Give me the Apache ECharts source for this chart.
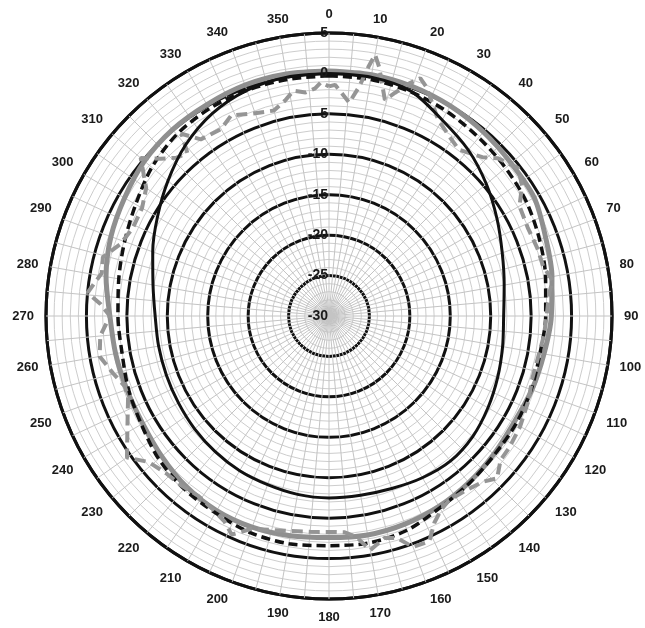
<!DOCTYPE html>
<html><head><meta charset="utf-8">
<script src="https://cdn.jsdelivr.net/npm/echarts@6/dist/echarts.min.js"></script>
<style>html,body{margin:0;padding:0;background:#fff}#c{width:645px;height:628px}</style>
</head><body><div id="c"></div>
<script>
// Radial scale (dB) and angular ticks
const radiusMin = -30, radiusMax = 5;
const angleLabelStep = 10;

// Black solid (narrow pattern), every 10 degrees
const blackSolidAngles = [0,10,20,30,40,50,60,70,80,90,100,110,120,130,140,150,160,170,180,190,200,210,220,230,240,250,260,270,280,290,300,310,320,330,340,350,360];
const blackSolidValues = [0,0,-0.4,-2.0,-3.2,-4.6,-6.0,-7.2,-8.0,-8.4,-8.2,-7.8,-7.3,-6.8,-6.6,-6.9,-7.3,-7.5,-7.5,-7.6,-7.8,-7.9,-8.1,-8.3,-8.5,-8.6,-8.6,-8.5,-7.9,-6.8,-5.5,-4.0,-2.4,-1.1,-0.3,0,0];

// Gray solid, every 10 degrees
const graySolidAngles = blackSolidAngles;
const graySolidValues = [0.3,0.3,0.2,0,-0.3,-0.6,-0.7,-1.5,-2.0,-2.5,-3.0,-3.3,-3.6,-3.4,-3.1,-2.8,-2.6,-2.5,-2.6,-2.4,-2.2,-2.2,-2.5,-3.0,-3.4,-3.4,-3.2,-2.9,-2.0,-1.3,-0.8,-0.2,0.1,0.2,0.4,0.4,0.3];

// Black dashed, every 10 degrees
const blackDashedAngles = blackSolidAngles;
const blackDashedValues = [-0.3,-0.3,-0.5,-0.8,-1.2,-1.5,-1.8,-2.3,-2.8,-3.2,-3.5,-3.4,-3.3,-3.3,-3.0,-2.6,-1.8,-1.5,-1.6,-1.4,-1.5,-1.9,-2.1,-2.5,-3.2,-3.6,-4.0,-3.9,-3.6,-3.1,-2.4,-1.4,-0.7,-0.4,-0.3,-0.3,-0.3];

// Gray dashed (irregular measured curve)
const grayDashedAngles = [0,1.5,3.3,5.4,7.5,9,10,11.4,14.5,16.5,19,21,23,26,29,34,38,44,47,52,56,60,66,72,77,81,84,90,95,100,107,113,120,126,130,134,137,142,147,150,153,156,160,163,166,170,173,176,180,185,190,195,200,204,207,211,216,221,226,231,235,240,244,248,251,255,260,265,270,273,275.5,280.7,284.6,289,294,300,305,310,313,316,319,321,324,330,334,339,345,348.5,351,354,356.5,358,360];
const grayDashedValues = [-1.6,-1.4,-2.4,-3.5,-1.4,1.2,2.8,1.4,-2.4,-1.2,0.4,1.5,0.8,-0.8,-2.2,-3.3,-3.9,-2.7,-1.4,-0.3,-1.2,-2.8,-3.1,-2.9,-2.8,-2.0,-2.6,-3.1,-3.3,-3.6,-3.7,-3.2,-2.7,-2.4,-2.3,-1.1,-2.0,-2.6,-2.8,-2.3,-1.3,0.5,0.4,-1.3,-1.7,-0.6,-2.5,-3.2,-3.3,-3.2,-3.0,-2.6,-2.0,-0.4,-1.5,-2.1,-2.5,-2.2,-2.0,-1.3,0.5,-1.2,-2.3,-3.2,-3.3,-2.4,-1.2,-1.6,-2.9,-1.7,0,-1.4,-1.1,-2.7,-3.4,-3.3,-2.4,0.4,-1.5,-2.8,-3.3,-1.0,-3.0,-3.3,-2.4,-3.2,-3.7,-2.8,-1.8,-2.2,-1.8,-1.1,-1.6];

function pairs(angles, values){ return angles.map((a,i)=>[values[i], a]); }

const chart = echarts.init(document.getElementById('c'), null, {renderer:'canvas'});
const C = [329, 316], R = 283;
const fontFamily = 'Liberation Sans, Arial, sans-serif';
const option = {
  animation:false,
  backgroundColor:'#fff',
  textStyle:{fontFamily},
  polar:[{center:C, radius:R},{center:C, radius:R},{center:C, radius:R}],
  angleAxis:[
    {polarIndex:0, type:'value', min:0, max:360, interval:5, startAngle:90, clockwise:true,
     axisLine:{show:false}, axisTick:{show:false}, axisLabel:{show:false},
     splitLine:{show:true, lineStyle:{color:'#c4c4c4', width:1}}, z:3},
    {polarIndex:1, type:'value', min:0, max:360, interval:10, startAngle:90, clockwise:true,
     axisLine:{show:true, lineStyle:{color:'#111', width:3}}, axisTick:{show:false}, axisLabel:{show:false},
     splitLine:{show:false}, z:2},
    {polarIndex:2, type:'value', min:0, max:360, interval:angleLabelStep, startAngle:90, clockwise:true,
     axisLine:{show:false}, axisTick:{show:false},
     axisLabel:{show:true, margin:12, fontSize:13, fontWeight:'bold', color:'#1a1a1a', fontFamily,
       formatter:v=> (v%angleLabelStep===0 && v<360) ? String(v) : ''},
     splitLine:{show:false}, z:6}
  ],
  radiusAxis:[
    {polarIndex:0, type:'value', min:radiusMin, max:radiusMax, interval:1,
     axisLine:{show:false}, axisTick:{show:false}, axisLabel:{show:false},
     splitLine:{show:true, lineStyle:{color:'#cdcdcd', width:1}}, z:1},
    {polarIndex:1, type:'value', min:radiusMin, max:radiusMax, interval:5,
     axisLine:{show:false}, axisTick:{show:false}, axisLabel:{show:false},
     splitLine:{show:true, lineStyle:{color:'#111', width:3}}, z:2},
    {polarIndex:2, type:'value', min:radiusMin, max:radiusMax, interval:5,
     axisLine:{show:false}, axisTick:{show:false},
     axisLabel:{show:true, margin:1, fontSize:14, fontWeight:'bold', color:'#1a1a1a', fontFamily},
     splitLine:{show:false}, z:6}
  ],
  series:[
    {type:'line', coordinateSystem:'polar', polarIndex:0, data:pairs(graySolidAngles, graySolidValues),
     smooth:0.3, showSymbol:false, lineStyle:{color:'#8f8f8f', width:5}, z:4},
    {type:'line', coordinateSystem:'polar', polarIndex:0, data:pairs(blackDashedAngles, blackDashedValues),
     smooth:0.3, showSymbol:false, lineStyle:{color:'#111', width:3.5, type:[9,5]}, z:4},
    {type:'line', coordinateSystem:'polar', polarIndex:0, data:pairs(grayDashedAngles, grayDashedValues),
     smooth:false, showSymbol:false, lineStyle:{color:'#959595', width:4, type:[11,6]}, z:4},
    {type:'line', coordinateSystem:'polar', polarIndex:0, data:pairs(blackSolidAngles, blackSolidValues),
     smooth:0.3, showSymbol:false, lineStyle:{color:'#111', width:3}, z:5}
  ]
};
chart.setOption(option);
</script>
</body></html>
